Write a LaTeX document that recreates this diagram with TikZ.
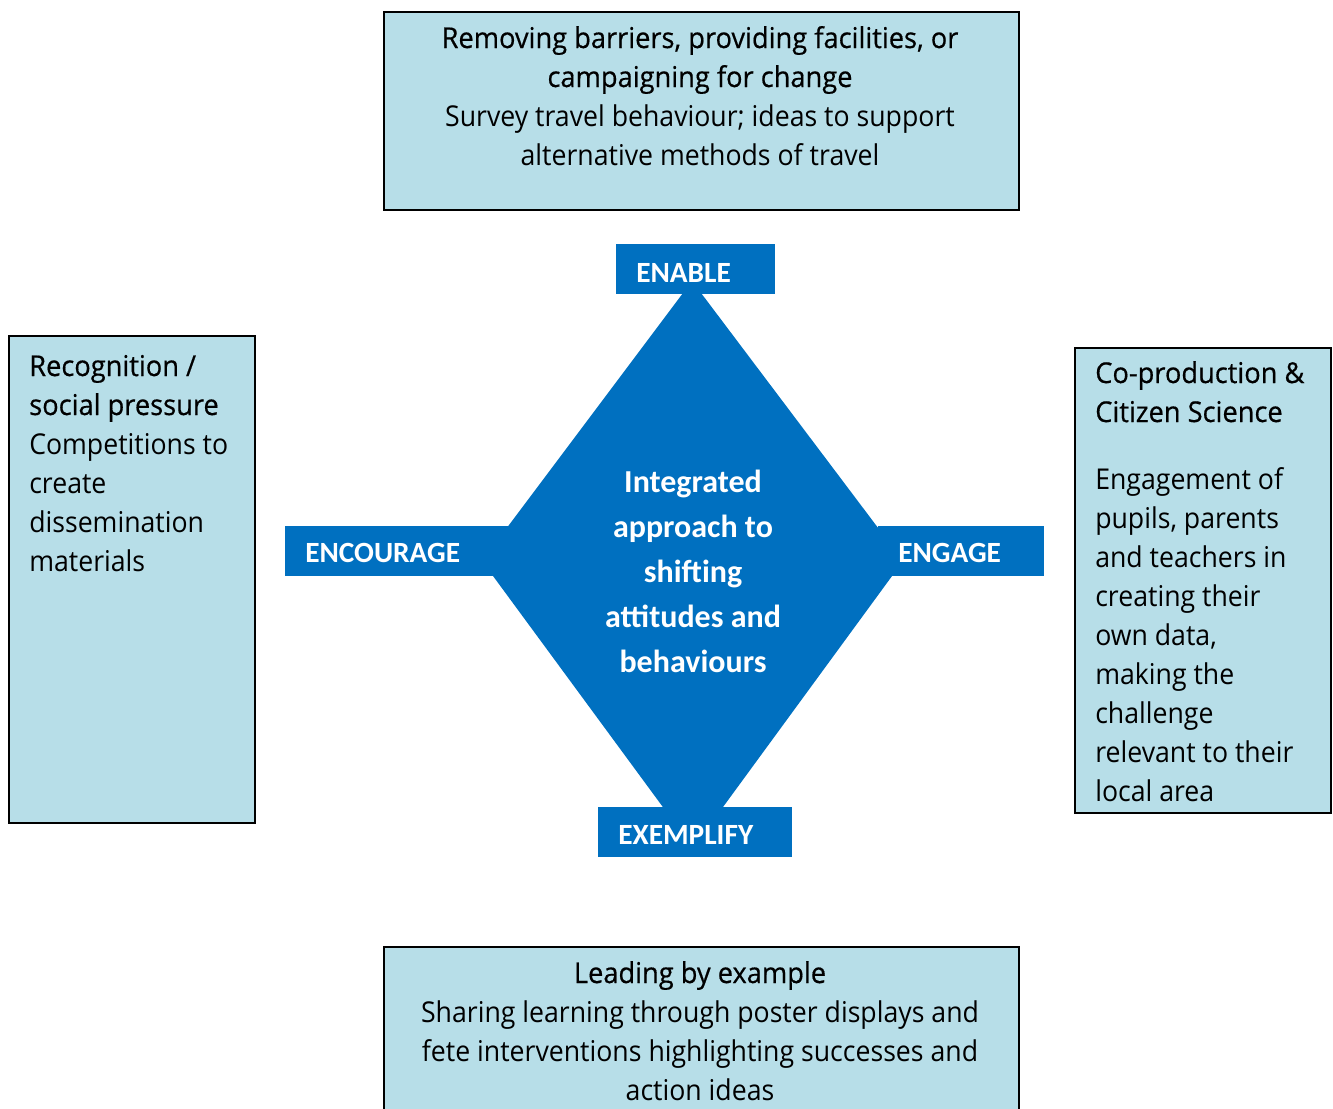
\documentclass[tikz,border=0pt]{standalone}
\usepackage{fontspec}
\setmainfont{Open Sans}
\newfontfamily\bodyfont[FakeStretch=0.93]{Open Sans}
\newfontfamily\headfont[FakeStretch=0.95,FakeBold=0.5]{Open Sans}
\newfontfamily\labelfont{Carlito}
\definecolor{boxblue}{HTML}{B7DEE8}
\definecolor{corblue}{HTML}{0070C0}
\begin{document}
\begin{tikzpicture}[x=0.75pt,y=-0.75pt,
  infobox/.style={draw=black, line width=1.5pt, fill=boxblue, inner sep=0pt, anchor=north west},
  tagbox/.style={fill=corblue, inner sep=0pt, anchor=north west, minimum height=37.5pt},
  tagtext/.style={text=white, inner sep=0pt, anchor=base west, font=\labelfont\bfseries\fontsize{22}{26}\selectfont},
  headtext/.style={inner sep=0pt, font=\headfont\fontsize{21.5}{29.25}\selectfont},
  bodytext/.style={inner sep=0pt, font=\bodyfont\fontsize{21.5}{29.25}\selectfont},
]
\useasboundingbox (0,0) rectangle (1333,1108);

% outer information boxes
\node[infobox, minimum width=476.25pt, minimum height=148.5pt] (enablebox) at (383,11) {};
\node[infobox, minimum width=184.5pt, minimum height=365.25pt] (encbox) at (8,335) {};
\node[infobox, minimum width=192pt, minimum height=348.75pt] (engbox) at (1074,347) {};
\node[infobox, minimum width=476.25pt, minimum height=130.5pt] (exbox) at (383,946) {};

% central diamond
\coordinate (dtop) at (692,281);
\coordinate (dright) at (903,561);
\coordinate (dbottom) at (693,848);
\coordinate (dleft) at (482,561);
\fill[corblue] (dtop) -- (dright) -- (dbottom) -- (dleft) -- cycle;

% multi-line nodes below are anchored at the baseline of their last line
\node[text=white, inner sep=0pt, anchor=base, align=center,
  font=\labelfont\bfseries\fontsize{24}{33.6}\selectfont] (core) at (693,672)
  {Integrated\\approach to\\shifting\\attitudes and\\behaviours};

% corner tags
\node[tagbox, minimum width=119.25pt] (enabletag) at (616,244) {};
\node[tagtext] (enablet) at (636,282) {ENABLE};
\node[tagbox, minimum width=167.25pt] (enctag) at (285,526) {};
\node[tagtext] (enct) at (305,562) {ENCOURAGE};
\node[tagbox, minimum width=124.5pt] (engtag) at (878,526) {};
\node[tagtext] (engt) at (898,562) {ENGAGE};
\node[tagbox, minimum width=145.5pt] (extag) at (598,807) {};
\node[tagtext] (ext) at (618,844) {EXEMPLIFY};

% texts of the boxes
\node[headtext, anchor=base, align=center] (enablehead) at (700,87)
  {Removing barriers, providing facilities, or\\campaigning for change};
\node[bodytext, anchor=base, align=center] (enablebody) at (700,165)
  {Survey travel behaviour; ideas to support\\alternative methods of travel};

\node[headtext, anchor=base west, align=left] (enchead) at (29,415)
  {Recognition /\\social pressure};
\node[bodytext, anchor=base west, align=left] (encbody) at (29,571)
  {Competitions to\\create\\dissemination\\materials};

\node[headtext, anchor=base west, align=left] (enghead) at (1095,422)
  {Co-production \&\\Citizen Science};
\begin{scope}
  \clip (1074,347) rectangle (1330,804);
  \node[bodytext, anchor=base west, align=left] (engbody) at (1095,801)
    {Engagement of\\pupils, parents\\and teachers in\\creating their\\own data,\\making the\\challenge\\relevant to their\\local area};
\end{scope}

\node[headtext, anchor=base, align=center] (exhead) at (700,983)
  {Leading by example};
\node[bodytext, anchor=base, align=center] (exbody) at (700,1100)
  {Sharing learning through poster displays and\\fete interventions highlighting successes and\\action ideas};
\end{tikzpicture}
\end{document}
